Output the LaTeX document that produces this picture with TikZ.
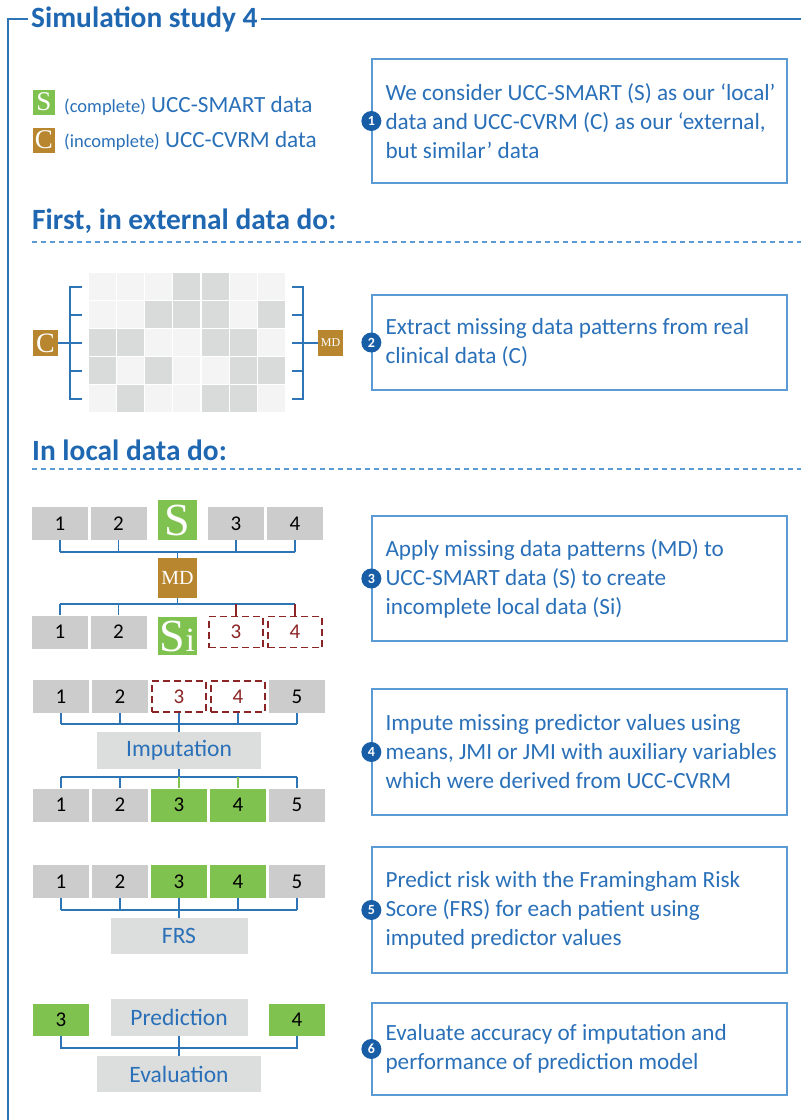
\documentclass[tikz,border=0pt]{standalone}
\usepackage{fontspec}
\setmainfont{Carlito}
\newfontfamily\letterfont{Liberation Serif}
\usetikzlibrary{positioning}

\definecolor{headblue}{HTML}{1F67B1}
\definecolor{textblue}{HTML}{2A70B8}
\definecolor{linkblue}{HTML}{2E75B6}
\definecolor{boxblue}{HTML}{5B9BD5}
\definecolor{badgeblue}{HTML}{175EA6}
\definecolor{sgreen}{HTML}{80C250}
\definecolor{cbrown}{HTML}{B8862E}
\definecolor{cellgray}{HTML}{CCCCCC}
\definecolor{procgray}{HTML}{DCDEDD}
\definecolor{missred}{HTML}{8B2525}
\definecolor{grid0}{HTML}{F4F4F4}
\definecolor{grid1}{HTML}{D9DBDA}

\tikzset{
    heading/.style={text=headblue, inner sep=0pt, anchor=base west,
        font=\fontsize{29.4}{34}\selectfont\bfseries},
    linkline/.style={draw=linkblue, line width=1.4pt},
    sepline/.style={draw=boxblue, line width=1.4pt, dash pattern=on 5pt off 4pt},
    cellbox/.style={fill=cellgray, minimum width=56pt, minimum height=33pt,
        inner sep=0pt, font=\fontsize{21}{24}\selectfont},
    donebox/.style={cellbox, fill=sgreen},
    missingbox/.style={cellbox, fill=none, draw=missred, text=missred,
        line width=1.7pt, dash pattern=on 7pt off 4pt,
        minimum width=54pt, minimum height=31pt},
    letterbox/.style={fill=#1, text=white, inner sep=0pt},
    procbox/.style={fill=procgray, text=textblue, inner sep=0pt,
        font=\fontsize{23.5}{26}\selectfont},
    stepbox/.style={draw=boxblue, line width=1.3pt, minimum width=415pt},
    steptext/.style={anchor=west, inner sep=0pt, align=left, text=textblue,
        font=\fontsize{23.2}{29}\selectfont},
    legendtext/.style={anchor=base west, inner sep=0pt, text=textblue,
        font=\fontsize{23.2}{26}\selectfont},
    badge/.style={circle, fill=badgeblue, text=white, inner sep=0pt,
        minimum size=20pt, font=\fontsize{14}{14}\selectfont\bfseries},
}

\begin{document}
\begin{tikzpicture}[x=1pt, y=-1pt]
    \useasboundingbox (0,0) rectangle (801,1120);

    %% frame and title
    \node[heading, anchor=west, inner xsep=3pt] (title) at (28,19) {Simulation study 4};
    \coordinate (rightedge) at (801,19);
    \draw[linkline] (title.west) -| (8,1120);
    \draw[linkline] (title.east) -- (title.east -| rightedge);

    %% legend
    \node[letterbox=sgreen, minimum width=22pt, minimum height=25pt,
          font=\letterfont\fontsize{27}{27}\selectfont] (legS) at (44,102) {S};
    \node[letterbox=cbrown, minimum width=22pt, minimum height=25pt,
          font=\letterfont\fontsize{27}{27}\selectfont] (legC) at (44,140) {C};
    \node[legendtext] (legStext) at (64,112) {{\fontsize{18.5}{18}\selectfont(complete)} UCC-SMART data};
    \node[legendtext] (legCtext) at (64,147) {{\fontsize{18.5}{18}\selectfont(incomplete)} UCC-CVRM data};

    \node[stepbox, minimum height=124pt] (info1) at (579.5,121) {};
    \node[steptext] (info1text) at ([xshift=14pt]info1.west)
        {We consider UCC-SMART (S) as our ‘local’\\ data and UCC-CVRM (C) as our ‘external,\\ but similar’ data};
    \node[badge] (badge1) at (info1.west) {1};

    %% external data
    \node[heading] (head1) at (32,229) {First, in external data do:};
    \draw[sepline] (32,242) -- (801,242);

    \foreach \pattern [count=\r] in {{0,0,0,1,1,0,0},{0,0,1,1,1,0,1},{1,1,0,0,1,1,0},{1,0,1,0,0,1,1},{0,1,0,0,1,1,0}}
        \foreach \v [count=\c] in \pattern
            \fill[grid\v] ({89+(\c-1)*28.15},{273+(\r-1)*28}) rectangle ++(27,27);

    \node[letterbox=cbrown, minimum width=25pt, minimum height=26pt,
          font=\letterfont\fontsize{28}{28}\selectfont] (cext) at (45.5,343) {C};
    \node[letterbox=cbrown, minimum width=25pt, minimum height=26pt,
          font=\letterfont\fontsize{12}{12}\selectfont] (mdext) at (330.5,343) {MD};
    \draw[linkline] (82,287) -| (70,399) -- (82,399);
    \draw[linkline] (292,287) -| (303,399) -- (292,399);
    \foreach \y in {315,343,371} {
        \draw[linkline] (70,\y) -- (82,\y);
        \draw[linkline] (292,\y) -- (303,\y);
    }
    \draw[linkline] (cext.east) -- (70,343);
    \draw[linkline] (mdext.west) -- (303,343);

    \node[stepbox, minimum height=95pt] (info2) at (579.5,342.5) {};
    \node[steptext] (info2text) at ([xshift=14pt]info2.west)
        {Extract missing data patterns from real\\ clinical data (C)};
    \node[badge] (badge2) at (info2.west) {2};

    %% local data
    \node[heading] (head2) at (32,460) {In local data do:};
    \draw[sepline] (32,469) -- (801,469);

    %% step 3: apply patterns
    \foreach \n/\x in {1/60,2/118.5,3/236,4/295}
        \node[cellbox] (top\n) at (\x,523.5) {\n};
    \node[letterbox=sgreen, minimum width=39pt, minimum height=40pt,
          font=\letterfont\fontsize{46}{46}\selectfont] (sfull) at (177.5,520) {S};
    \node[letterbox=cbrown, minimum width=39pt, minimum height=40pt,
          font=\letterfont\fontsize{20}{20}\selectfont] (mdloc) at (177.5,578) {MD};
    \coordinate (barA) at (177.5,552);
    \foreach \n in {1,...,4}
        \draw[linkline] (top\n.south) -- (top\n.south |- barA);
    \draw[linkline] (top1.south |- barA) -- (top4.south |- barA);
    \draw[linkline] (barA) -- (mdloc.north);

    \foreach \n/\x in {1/60,2/118.5}
        \node[cellbox] (bot\n) at (\x,632) {\n};
    \foreach \n/\x in {3/236,4/295}
        \node[missingbox] (bot\n) at (\x,632) {\n};
    \node[letterbox=sgreen, minimum width=39pt, minimum height=38pt,
          font=\letterfont\fontsize{46}{46}\selectfont] (sinc) at (177.5,636)
          {S{\fontsize{34}{34}\selectfont i}};
    \coordinate (barB) at (177.5,604);
    \draw[linkline] (mdloc.south) -- (barB);
    \draw[linkline] (bot1.north |- barB) -- (bot4.north |- barB);
    \foreach \n in {1,2}
        \draw[linkline] (bot\n.north |- barB) -- (bot\n.north);
    \foreach \n in {3,4}
        \draw[line width=1.4pt, missred] (bot\n.north |- barB) -- (bot\n.north);

    \node[stepbox, minimum height=125pt] (info3) at (579.5,578.5) {};
    \node[steptext] (info3text) at ([xshift=14pt]info3.west)
        {Apply missing data patterns (MD) to\\ UCC-SMART data (S) to create\\ incomplete local data (Si)};
    \node[badge] (badge3) at (info3.west) {3};

    %% step 4: imputation
    \foreach \n/\x in {1/61,2/120,5/297}
        \node[cellbox] (imp\n) at (\x,696.5) {\n};
    \foreach \n/\x in {3/179,4/238}
        \node[missingbox] (imp\n) at (\x,696.5) {\n};
    \node[procbox, minimum width=164pt, minimum height=37pt] (impute) at (179,750.5) {Imputation};
    \coordinate (barC) at (179,724);
    \foreach \n in {1,...,5}
        \draw[linkline] (imp\n.south) -- (imp\n.south |- barC);
    \draw[linkline] (imp1.south |- barC) -- (imp5.south |- barC);
    \draw[linkline] (barC) -- (impute.north);

    \foreach \n/\x in {1/61,2/120,5/297}
        \node[cellbox] (out\n) at (\x,805) {\n};
    \foreach \n/\x in {3/179,4/238}
        \node[donebox] (out\n) at (\x,805) {\n};
    \coordinate (barD) at (179,777);
    \draw[linkline] (impute.south) -- (barD);
    \draw[linkline] (out1.north |- barD) -- (out5.north |- barD);
    \foreach \n in {1,2,5}
        \draw[linkline] (out\n.north |- barD) -- (out\n.north);
    \foreach \n in {3,4}
        \draw[line width=1.4pt, sgreen] (out\n.north |- barD) -- (out\n.north);

    \node[stepbox, minimum height=126pt] (info4) at (579.5,752) {};
    \node[steptext] (info4text) at ([xshift=14pt]info4.west)
        {Impute missing predictor values using\\ means, JMI or JMI with auxiliary variables\\ which were derived from UCC-CVRM};
    \node[badge] (badge4) at (info4.west) {4};

    %% step 5: prediction
    \foreach \n/\x in {1/61,2/120,5/297}
        \node[cellbox] (frs\n) at (\x,881.5) {\n};
    \foreach \n/\x in {3/179,4/238}
        \node[donebox] (frs\n) at (\x,881.5) {\n};
    \node[procbox, minimum width=137pt, minimum height=36pt] (frs) at (179,936) {FRS};
    \coordinate (barE) at (179,910);
    \foreach \n in {1,...,5}
        \draw[linkline] (frs\n.south) -- (frs\n.south |- barE);
    \draw[linkline] (frs1.south |- barE) -- (frs5.south |- barE);
    \draw[linkline] (barE) -- (frs.north);

    \node[stepbox, minimum height=126pt] (info5) at (579.5,910) {};
    \node[steptext] (info5text) at ([xshift=14pt]info5.west)
        {Predict risk with the Framingham Risk\\ Score (FRS) for each patient using\\ imputed predictor values};
    \node[badge] (badge5) at (info5.west) {5};

    %% step 6: evaluation
    \node[donebox, minimum height=32pt] (eval3) at (61,1020) {3};
    \node[donebox, minimum height=32pt] (eval4) at (297,1020) {4};
    \node[procbox, minimum width=137pt, minimum height=37pt] (predict) at (179,1017.5) {Prediction};
    \node[procbox, minimum width=164pt, minimum height=36pt] (evaluate) at (179,1074) {Evaluation};
    \coordinate (barF) at (179,1048);
    \draw[linkline] (eval3.south) |- (barF) -| (eval4.south);
    \draw[linkline] (predict.south) -- (evaluate.north);

    \node[stepbox, minimum height=92pt] (info6) at (579.5,1049) {};
    \node[steptext] (info6text) at ([xshift=14pt]info6.west)
        {Evaluate accuracy of imputation and\\ performance of prediction model};
    \node[badge] (badge6) at (info6.west) {6};
\end{tikzpicture}
\end{document}
